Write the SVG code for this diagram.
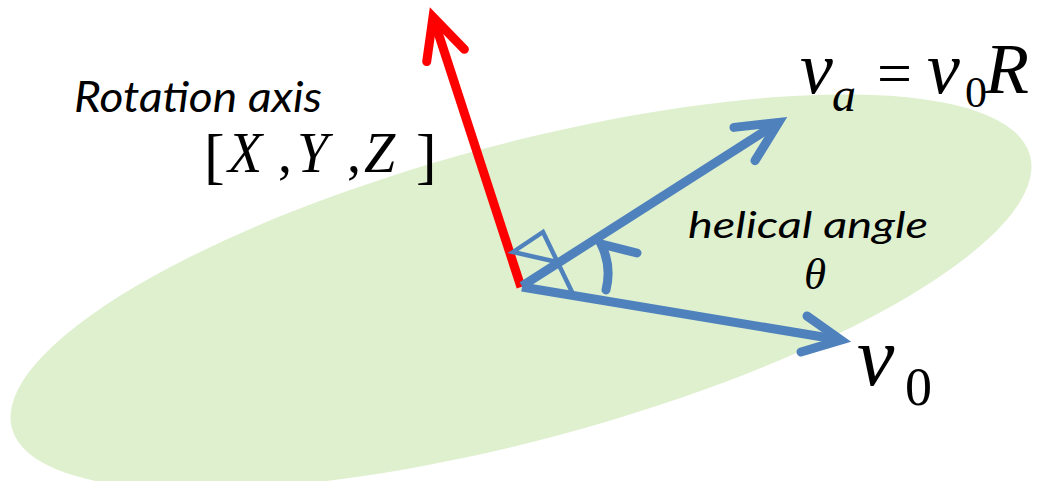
<svg xmlns="http://www.w3.org/2000/svg" width="1043" height="481" viewBox="0 0 1043 481">
<style>
.plane{fill:#dff0cf;stroke:none}
.red{fill:none;stroke:#ff0000;stroke-width:9;stroke-linejoin:miter;stroke-miterlimit:10}
.blue{fill:none;stroke:#4f81bd;stroke-width:9;stroke-linejoin:miter;stroke-miterlimit:10}
.head{stroke-linecap:round}
.thin{fill:none;stroke:#4f81bd;stroke-width:4.5;stroke-linejoin:miter}
.lbl{font-family:Lato,"Open Sans","Liberation Sans",sans-serif;font-style:italic;fill:#000}
.math{font-family:"Liberation Serif","DejaVu Serif",serif;font-style:italic;fill:#000}
.up{font-family:"Liberation Serif","DejaVu Serif",serif;font-style:normal;fill:#000}
</style>
<rect width="1043" height="481" fill="#ffffff"/>
<g id="plane">
<ellipse class="plane" cx="521" cy="292" rx="527" ry="148" transform="rotate(-15 521 292)"/>
</g>
<g id="connectors">
<g id="rotation-axis-arrow">
<path class="red" d="M521 287 L433 17"/>
<path class="red head" d="M426.7 61.6 L433 17 L464.4 49.3"/>
</g>
<g id="right-angle-mark">
<path class="thin" d="M557 262 L513 252 L543 232 L572 292"/>
</g>
<g id="va-arrow">
<path class="blue" d="M522 286 L778.6 122.4"/>
<path class="blue head" d="M734 127.4 L778.6 122.4 L755 160.7"/>
</g>
<g id="v0-arrow">
<path class="blue" d="M522 287 L841 340"/>
<path class="blue head" d="M801 352 L841 340 L807 316"/>
</g>
<g id="angle-arc">
<path class="blue head" d="M637 253 L601 244 Q612 266 606 290" stroke-width="10"/>
</g>
</g>
<g id="label-rotation-axis">
<text class="lbl" x="74" y="112" font-size="42" textLength="248" lengthAdjust="spacingAndGlyphs">Rotation axis</text>
</g>
<g id="label-xyz">
<text class="up" x="204" y="177" font-size="62">[</text>
<text class="math" x="228" y="172" font-size="56">X</text>
<text class="up" x="278" y="172" font-size="56">,</text>
<text class="math" x="297" y="172" font-size="56">Y</text>
<text class="up" x="347" y="172" font-size="56">,</text>
<text class="math" x="364" y="172" font-size="56">Z</text>
<text class="up" x="416" y="177" font-size="62">]</text>
</g>
<g id="label-va">
<text class="math" x="800" y="93" font-size="74">v</text>
<text class="math" x="832" y="111" font-size="48">a</text>
<text class="up" x="877" y="94" font-size="62">=</text>
<text class="math" x="927" y="93" font-size="74">v</text>
<text class="up" x="965" y="107" font-size="44">0</text>
<text class="math" x="985" y="93" font-size="72">R</text>
</g>
<g id="label-helical">
<text class="lbl" x="688" y="238" font-size="36" textLength="240" lengthAdjust="spacingAndGlyphs">helical angle</text>
<text class="math" x="804" y="289" font-size="45">θ</text>
</g>
<g id="label-v0">
<text class="math" x="857" y="385" font-size="84">v</text>
<text class="up" x="905" y="405" font-size="54">0</text>
</g>
</svg>
